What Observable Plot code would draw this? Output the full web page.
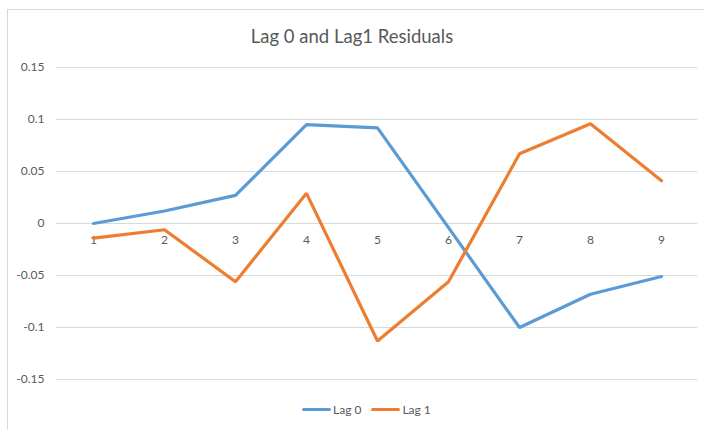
<!DOCTYPE html>
<html>
<head>
<meta charset="utf-8">
<script src="https://cdn.jsdelivr.net/npm/d3@7"></script>
<script src="https://cdn.jsdelivr.net/npm/@observablehq/plot@0.6"></script>
<style>
  html, body { margin: 0; padding: 0; background: #fff; }
  #wrap { position: relative; width: 704px; height: 430px; overflow: hidden; font-family: Lato, "Open Sans", sans-serif; }
  #border { position: absolute; left: 7px; top: 9px; width: 760px; height: 460px; border: 1px solid #d9d9d9; box-sizing: border-box; }
  #title { position: absolute; left: 0; width: 704px; top: 25px; text-align: center; font-size: 18.5px; color: #595959; }
  #chart { position: absolute; left: 0; top: 0; }
  #legend { position: absolute; top: 402px; left: 302px; font-size: 12px; color: #595959; display: flex; align-items: center; white-space: nowrap; }
  .sw { display: inline-block; width: 29px; height: 3px; border-radius: 1.5px; margin-right: 2px; }
</style>
</head>
<body>
<div id="wrap">
  <div id="border"></div>
  <div id="chart"></div>
  <div id="title">Lag 0 and Lag1 Residuals</div>
  <div id="legend"></div>
</div>
<script>
const categories = [1, 2, 3, 4, 5, 6, 7, 8, 9];
const lag0 = [0.000, 0.012, 0.027, 0.095, 0.092, -0.004, -0.100, -0.068, -0.051];
const lag1 = [-0.014, -0.006, -0.056, 0.029, -0.113, -0.056, 0.067, 0.096, 0.041];
const yTicks = [-0.15, -0.1, -0.05, 0, 0.05, 0.1, 0.15];
const seriesNames = ["Lag 0", "Lag 1"];
const colors = ["#5B9BD5", "#ED7D31"];

const data = [];
categories.forEach((c, i) => {
  data.push({x: c, y: lag0[i], s: seriesNames[0]});
  data.push({x: c, y: lag1[i], s: seriesNames[1]});
});

const plot = Plot.plot({
  width: 704,
  height: 430,
  marginLeft: 56,
  marginRight: 7,
  marginTop: 67,
  marginBottom: 51,
  style: {fontFamily: "Lato, 'Open Sans', sans-serif", fontSize: "12px", color: "#595959", background: "transparent"},
  x: {type: "point", domain: categories, padding: 0.5, axis: null},
  y: {domain: [-0.15, 0.15], axis: null, label: null},
  color: {domain: seriesNames, range: colors},
  marks: [
    Plot.ruleY(yTicks, {stroke: "#d9d9d9", strokeWidth: 1}),
    Plot.axisY({ticks: yTicks, tickSize: 0, tickPadding: 12, label: null, tickFormat: d => String(+d.toFixed(2)), fill: "#595959", fontSize: 12}),
    Plot.text(categories, {x: d => d, y: () => 0, text: d => String(d), dy: 17, fill: "#595959", fontSize: 12}),
    Plot.line(data, {x: "x", y: "y", z: "s", stroke: "s", strokeWidth: 3.2, strokeLinejoin: "miter", strokeLinecap: "round"})
  ]
});
document.getElementById("chart").appendChild(plot);

const legend = document.getElementById("legend");
seriesNames.forEach((name, i) => {
  const item = document.createElement("span");
  item.style.display = "inline-flex";
  item.style.alignItems = "center";
  item.style.marginRight = i === 0 ? "10px" : "0";
  const sw = document.createElement("span");
  sw.className = "sw";
  sw.style.background = colors[i];
  item.appendChild(sw);
  item.appendChild(document.createTextNode(name));
  legend.appendChild(item);
});
</script>
</body>
</html>
